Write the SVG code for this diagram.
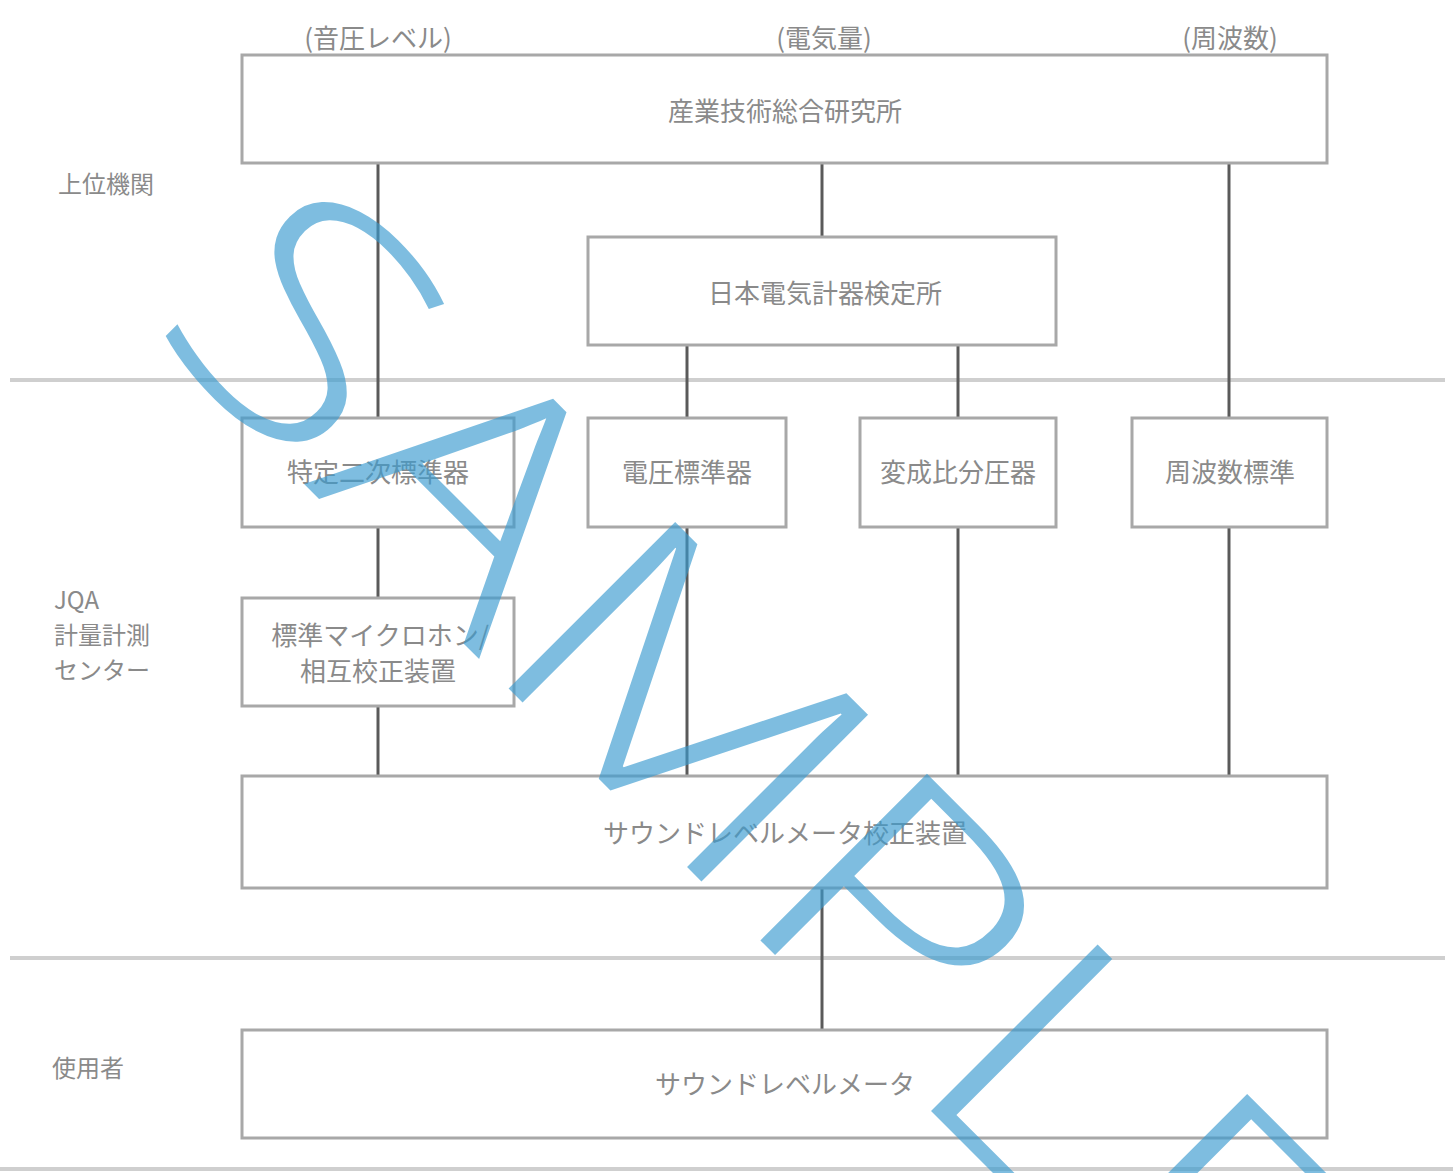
<svg xmlns="http://www.w3.org/2000/svg" width="1453" height="1173" viewBox="0 0 1453 1173">
<defs>
<style>
.box{fill:#fff;stroke:#a8a8a8;stroke-width:3}
.t{font-family:"Noto Sans CJK JP","Liberation Sans",sans-serif;font-size:26px;fill:#8a8a8a;text-anchor:middle;dominant-baseline:central}
.l{font-family:"Noto Sans CJK JP","Liberation Sans",sans-serif;font-size:24px;fill:#8a8a8a;dominant-baseline:central}
.c{stroke:#5a5a5a;stroke-width:3;fill:none}
.div{stroke:#cfcfcf;stroke-width:4}
.wm{font-family:"Open Sans","Liberation Sans",sans-serif;font-weight:350;font-size:330px;fill:#3a9bd0;opacity:0.65}
</style>
</defs>
<rect width="1453" height="1173" fill="#fff"/>
<g id="dividers">
<line class="div" x1="10" y1="380" x2="1445" y2="380"/>
<line class="div" x1="10" y1="958" x2="1445" y2="958"/>
<line class="div" x1="0" y1="1169" x2="1453" y2="1169"/>
</g>
<g id="connectors">
<line class="c" x1="378" y1="163" x2="378" y2="418"/>
<line class="c" x1="822" y1="163" x2="822" y2="237"/>
<line class="c" x1="1229" y1="163" x2="1229" y2="418"/>
<line class="c" x1="687" y1="345" x2="687" y2="418"/>
<line class="c" x1="958" y1="345" x2="958" y2="418"/>
<line class="c" x1="378" y1="527" x2="378" y2="598"/>
<line class="c" x1="378" y1="706" x2="378" y2="776"/>
<line class="c" x1="687" y1="527" x2="687" y2="776"/>
<line class="c" x1="958" y1="527" x2="958" y2="776"/>
<line class="c" x1="1229" y1="527" x2="1229" y2="776"/>
<line class="c" x1="822" y1="888" x2="822" y2="1030"/>
</g>
<g id="labels">
<text class="t" x="378" y="36" font-size="24">(音圧レベル)</text>
<text class="t" x="824" y="36" font-size="24">(電気量)</text>
<text class="t" x="1230" y="36" font-size="24">(周波数)</text>
<text class="l" x="58" y="182">上位機関</text>
<text class="l" x="54" y="598">JQA</text>
<text class="l" x="54" y="633">計量計測</text>
<text class="l" x="54" y="668">センター</text>
<text class="l" x="52" y="1066">使用者</text>
</g>
<g id="aist"><rect class="box" x="242" y="55" width="1085" height="108"/><text class="t" x="785" y="109">産業技術総合研究所</text></g>
<g id="jemic"><rect class="box" x="588" y="237" width="468" height="108"/><text class="t" x="825" y="291">日本電気計器検定所</text></g>
<g id="secondary"><rect class="box" x="242" y="418" width="272" height="109"/><text class="t" x="378" y="470">特定二次標準器</text></g>
<g id="voltage"><rect class="box" x="588" y="418" width="198" height="109"/><text class="t" x="687" y="470">電圧標準器</text></g>
<g id="divider"><rect class="box" x="860" y="418" width="196" height="109"/><text class="t" x="958" y="470">変成比分圧器</text></g>
<g id="frequency"><rect class="box" x="1132" y="418" width="195" height="109"/><text class="t" x="1230" y="470">周波数標準</text></g>
<g id="microphone"><rect class="box" x="242" y="598" width="272" height="108"/><text class="t" x="380" y="633" font-size="25">標準マイクロホン/</text><text class="t" x="378" y="669">相互校正装置</text></g>
<g id="calibrator"><rect class="box" x="242" y="776" width="1085" height="112"/><text class="t" x="785" y="831">サウンドレベルメータ校正装置</text></g>
<g id="slm"><rect class="box" x="242" y="1030" width="1085" height="108"/><text class="t" x="785" y="1082">サウンドレベルメータ</text></g>
<g id="watermark"><text class="wm" transform="translate(145,325) rotate(45) scale(1.25,1)">SAMPLE</text></g>
</svg>
